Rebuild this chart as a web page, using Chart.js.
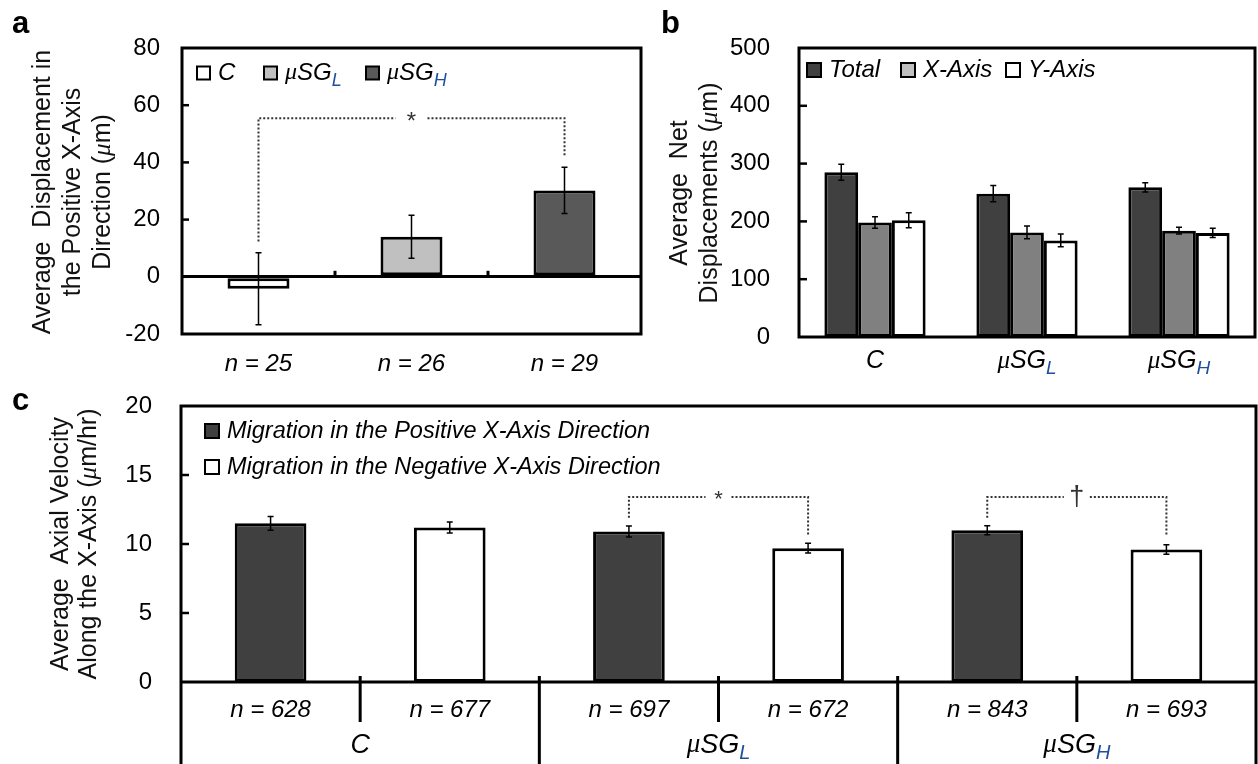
<!DOCTYPE html>
<html>
<head>
<meta charset="utf-8">
<script src="https://cdn.jsdelivr.net/npm/chart.js@4.4.1/dist/chart.umd.min.js"></script>
<style>
  html, body { margin: 0; padding: 0; background: #fff; }
  #wrap { position: relative; width: 1258px; height: 764px; overflow: hidden; }
  canvas { position: absolute; }
</style>
</head>
<body>
<div id="wrap">
  <canvas id="chartA" width="650" height="385" style="left:0;top:0"></canvas>
  <canvas id="chartB" width="608" height="385" style="left:650px;top:0"></canvas>
  <canvas id="chartC" width="1258" height="394" style="left:0;top:370px"></canvas>
</div>
<script>
// ---- data ----
// panel a
const groupsA = ['C', 'μSG_L', 'μSG_H'];
const nLabelsA = ['n = 25', 'n = 26', 'n = 29'];
const meanA = [-4.2, 14.0, 30.2];
const errA = [12.6, 7.5, 8.1];
const colorsA = ['#ffffff', '#c0c0c0', '#595959'];
const bracketsA = [{ from: 0, to: 2, left: 12.3, right: 41.8, top: 55.4, mark: '*' }];

// panel b
const groupsB = ['C', 'μSG_L', 'μSG_H'];
const seriesB = ['Total', 'X-Axis', 'Y-Axis'];
const totalB = [285, 248, 259];
const totalErrB = [14, 14, 8];
const xAxisB = [198, 181, 184];
const xAxisErrB = [10, 11, 6];
const yAxisB = [202, 167, 180];
const yAxisErrB = [13, 11, 8];

// panel c
const groupsC = ['C', 'μSG_L', 'μSG_H'];
const nLabelsC = ['n = 628', 'n = 677', 'n = 697', 'n = 672', 'n = 843', 'n = 693'];
const seriesC = ['Migration in the Positive X-Axis Direction', 'Migration in the Negative X-Axis Direction'];
const positiveC = [11.5, 10.9, 11.0];
const positiveErrC = [0.5, 0.4, 0.33];
const negativeC = [11.2, 9.7, 9.6];
const negativeErrC = [0.4, 0.35, 0.34];
const bracketsC = [
  { from: 2, to: 3, left: 11.9, right: 10.6, top: 13.4, mark: '*' },
  { from: 4, to: 5, left: 11.9, right: 10.6, top: 13.4, mark: '†' }
];

// ---- helpers ----
const FAMILY = '"Liberation Sans", Arial, Helvetica, sans-serif';
const SUB_BLUE = '#1f4e9c';

// split a label into runs: μ in a serif face, "_X" as subscript
function parseRuns(text) {
  const out = [];
  let buf = '';
  for (let i = 0; i < text.length; i++) {
    const ch = text[i];
    if (ch === 'μ') {
      if (buf) out.push({ t: buf });
      buf = '';
      out.push({ t: 'μ', mu: true });
    } else if (ch === '_') {
      if (buf) out.push({ t: buf });
      buf = '';
      out.push({ t: text[i + 1], sub: true });
      i++;
    } else {
      buf += ch;
    }
  }
  if (buf) out.push({ t: buf });
  return out;
}

function drawRich(ctx, text, x, y, size, italic, align, color) {
  const runs = parseRuns(text);
  const fontFor = r => r.mu
    ? `italic ${size}px "Liberation Serif", "DejaVu Serif", serif`
    : `${italic ? 'italic ' : ''}${r.sub ? Math.round(size * 0.75) : size}px ${FAMILY}`;
  let w = 0;
  runs.forEach(r => { ctx.font = fontFor(r); r.w = ctx.measureText(r.t).width; w += r.w; });
  let cx = align === 'center' ? x - w / 2 : align === 'right' ? x - w : x;
  ctx.textAlign = 'left';
  ctx.textBaseline = 'middle';
  runs.forEach(r => {
    ctx.font = fontFor(r);
    ctx.fillStyle = r.sub ? SUB_BLUE : (color || '#000');
    ctx.fillText(r.t, cx, y + (r.sub ? size * 0.32 : 0));
    cx += r.w;
  });
}

function drawErrors(chart, cap) {
  const ctx = chart.ctx, ys = chart.scales.y;
  ctx.save();
  ctx.strokeStyle = '#000';
  ctx.lineWidth = 1.5;
  chart.data.datasets.forEach((ds, di) => {
    if (!ds.errors) return;
    chart.getDatasetMeta(di).data.forEach((bar, i) => {
      const v = ds.data[i], e = ds.errors[i];
      if (v == null || e == null) return;
      const x = bar.x;
      const y1 = ys.getPixelForValue(v + e), y2 = ys.getPixelForValue(v - e);
      ctx.beginPath();
      ctx.moveTo(x, y1); ctx.lineTo(x, y2);
      ctx.moveTo(x - cap, y1); ctx.lineTo(x + cap, y1);
      ctx.moveTo(x - cap, y2); ctx.lineTo(x + cap, y2);
      ctx.stroke();
    });
  });
  ctx.restore();
}

function drawInsideTicks(chart, len) {
  const ys = chart.scales.y, a = chart.chartArea, ctx = chart.ctx;
  ctx.save();
  ctx.strokeStyle = '#000';
  ctx.lineWidth = 2.5;
  ys.ticks.forEach(t => {
    const y = ys.getPixelForValue(t.value);
    if (Math.abs(y - a.top) < 2 || Math.abs(y - a.bottom) < 2) return;
    ctx.beginPath();
    ctx.moveTo(a.left, y);
    ctx.lineTo(a.left + len, y);
    ctx.stroke();
  });
  ctx.restore();
}

function drawBracket(chart, b, gap, markSize, markDy) {
  const ctx = chart.ctx, xs = chart.scales.x, ys = chart.scales.y;
  const x1 = xs.getPixelForValue(b.from), x2 = xs.getPixelForValue(b.to);
  const yl = ys.getPixelForValue(b.left), yr = ys.getPixelForValue(b.right), yt = ys.getPixelForValue(b.top);
  const mid = (x1 + x2) / 2;
  ctx.save();
  ctx.strokeStyle = '#333';
  ctx.lineWidth = 2;
  ctx.setLineDash([2, 2]);
  ctx.beginPath();
  ctx.moveTo(x1, yl); ctx.lineTo(x1, yt); ctx.lineTo(mid - gap, yt);
  ctx.moveTo(mid + gap, yt); ctx.lineTo(x2, yt); ctx.lineTo(x2, yr);
  ctx.stroke();
  ctx.setLineDash([]);
  ctx.fillStyle = '#333';
  ctx.font = `${markSize}px ${FAMILY}`;
  ctx.textAlign = 'center';
  ctx.textBaseline = 'middle';
  ctx.fillText(b.mark, mid, yt + markDy);
  ctx.restore();
}

function drawYTitle(ctx, lines, x0, yc, spacing, size) {
  lines.forEach((ln, i) => {
    ctx.save();
    ctx.translate(x0 + i * spacing, yc);
    ctx.rotate(-Math.PI / 2);
    drawRich(ctx, ln, 0, 0, size, false, 'center', '#111');
    ctx.restore();
  });
}

function drawLegendItem(ctx, x, yc, box, fill, label, size) {
  ctx.save();
  ctx.fillStyle = fill;
  ctx.strokeStyle = '#000';
  ctx.lineWidth = 2;
  ctx.fillRect(x, yc - box / 2, box, box);
  ctx.strokeRect(x, yc - box / 2, box, box);
  ctx.restore();
  drawRich(ctx, label, x + box + 8, yc, size, true, 'left', '#000');
}

function drawPanelLetter(ctx, letter, x, y) {
  ctx.save();
  ctx.font = `bold 31px ${FAMILY}`;
  ctx.fillStyle = '#000';
  ctx.textAlign = 'left';
  ctx.textBaseline = 'alphabetic';
  ctx.fillText(letter, x, y);
  ctx.restore();
}

const tickFont = { family: FAMILY, size: 24 };
const labelFont = { family: FAMILY, size: 24, style: 'italic' };

// ---- panel a ----
new Chart(document.getElementById('chartA'), {
  type: 'bar',
  data: {
    labels: nLabelsA,
    datasets: [{
      data: meanA,
      errors: errA,
      backgroundColor: colorsA,
      borderColor: '#000',
      borderWidth: 3,
      borderSkipped: false,
      barPercentage: 0.405,
      categoryPercentage: 1
    }]
  },
  options: {
    responsive: false,
    animation: false,
    layout: { padding: { top: 48, right: 9, left: 0, bottom: 0 } },
    plugins: { legend: { display: false }, tooltip: { enabled: false } },
    scales: {
      x: {
        grid: { display: false },
        border: { display: false },
        ticks: { color: '#000', font: labelFont, padding: 8 },
        afterFit: s => { s.height = 51; }
      },
      y: {
        min: -20, max: 80,
        ticks: { stepSize: 20, color: '#000', font: tickFont, padding: 22 },
        grid: { color: c => (c.tick && c.tick.value === 0) ? '#000' : 'rgba(0,0,0,0)', lineWidth: 3, drawTicks: false },
        border: { display: false },
        afterFit: s => { s.width = 182; }
      }
    }
  },
  plugins: [{
    id: 'panelA',
    afterDatasetsDraw(chart) { drawErrors(chart, 3); },
    afterDraw(chart) {
      const ctx = chart.ctx, a = chart.chartArea, xs = chart.scales.x, ys = chart.scales.y;
      ctx.save();
      ctx.strokeStyle = '#000';
      ctx.lineWidth = 3;
      ctx.strokeRect(a.left, a.top, a.right - a.left, a.bottom - a.top);
      // category boundary ticks on the zero line
      const y0 = ys.getPixelForValue(0);
      for (let i = 0; i < nLabelsA.length - 1; i++) {
        const xb = (xs.getPixelForTick(i) + xs.getPixelForTick(i + 1)) / 2;
        ctx.beginPath(); ctx.moveTo(xb, y0 - 6); ctx.lineTo(xb, y0); ctx.stroke();
      }
      ctx.restore();
      drawInsideTicks(chart, 7);
      bracketsA.forEach(b => drawBracket(chart, b, 16, 24, 4));
      const offs = [15, 82, 184];
      groupsA.forEach((g, i) => drawLegendItem(ctx, a.left + offs[i], a.top + 25, 13, colorsA[i], g, 24));
      drawYTitle(ctx, ['Average  Displacement in', 'the Positive X-Axis', 'Direction (μm)'], 43, 192, 30, 25);
      drawPanelLetter(ctx, 'a', 12, 33);
    }
  }]
});

// ---- panel b ----
const colorsB = ['#404040', '#808080', '#ffffff'];
const legendColorsB = ['#404040', '#c0c0c0', '#ffffff'];
new Chart(document.getElementById('chartB'), {
  type: 'bar',
  data: {
    labels: groupsB,
    datasets: [
      { label: seriesB[0], data: totalB, errors: totalErrB, backgroundColor: colorsB[0] },
      { label: seriesB[1], data: xAxisB, errors: xAxisErrB, backgroundColor: colorsB[1] },
      { label: seriesB[2], data: yAxisB, errors: yAxisErrB, backgroundColor: colorsB[2] }
    ].map(d => Object.assign(d, { borderColor: '#000', borderWidth: 3, borderSkipped: false, barPercentage: 1, categoryPercentage: 0.666 }))
  },
  options: {
    responsive: false,
    animation: false,
    layout: { padding: { top: 48, right: 3, left: 0, bottom: 0 } },
    plugins: { legend: { display: false }, tooltip: { enabled: false } },
    scales: {
      x: {
        grid: { display: false },
        border: { display: false },
        ticks: { display: false },
        afterFit: s => { s.height = 48; }
      },
      y: {
        min: 0, max: 500,
        ticks: { stepSize: 100, color: '#000', font: tickFont, padding: 21 },
        grid: { display: false },
        border: { display: false },
        afterFit: s => { s.width = 149; }
      }
    }
  },
  plugins: [{
    id: 'panelB',
    afterDatasetsDraw(chart) { drawErrors(chart, 3); },
    afterDraw(chart) {
      const ctx = chart.ctx, a = chart.chartArea, xs = chart.scales.x;
      ctx.save();
      ctx.strokeStyle = '#000';
      ctx.lineWidth = 3;
      ctx.strokeRect(a.left, a.top, a.right - a.left, a.bottom - a.top);
      ctx.restore();
      drawInsideTicks(chart, 8);
      groupsB.forEach((g, i) => drawRich(ctx, g, xs.getPixelForTick(i), 361, 25, true, 'center', '#000'));
      const offs = [8, 102, 207];
      seriesB.forEach((s, i) => drawLegendItem(ctx, a.left + offs[i], a.top + 22, 14, legendColorsB[i], s, 24));
      drawYTitle(ctx, ['Average  Net', 'Displacements (μm)'], 30, 193, 30, 25);
      drawPanelLetter(ctx, 'b', 11, 33);
    }
  }]
});

// ---- panel c ----
// spread three group values over the six sub-columns (positive on even, negative on odd)
function spread(vals, odd) {
  const out = [];
  vals.forEach(v => { if (odd) { out.push(null, v); } else { out.push(v, null); } });
  return out;
}
const colorsC = ['#404040', '#ffffff'];
new Chart(document.getElementById('chartC'), {
  type: 'bar',
  data: {
    labels: nLabelsC,
    datasets: [
      { label: seriesC[0], data: spread(positiveC, false), errors: spread(positiveErrC, false), backgroundColor: colorsC[0] },
      { label: seriesC[1], data: spread(negativeC, true), errors: spread(negativeErrC, true), backgroundColor: colorsC[1] }
    ].map(d => Object.assign(d, { borderColor: '#000', borderWidth: 3, borderSkipped: false, barPercentage: 0.40, categoryPercentage: 1, grouped: false }))
  },
  options: {
    responsive: false,
    animation: false,
    layout: { padding: { top: 36, right: 2, left: 0, bottom: 0 } },
    plugins: { legend: { display: false }, tooltip: { enabled: false } },
    scales: {
      x: {
        grid: { display: false },
        border: { display: false },
        ticks: { color: '#000', font: labelFont, padding: 6 },
        afterFit: s => { s.height = 82; }
      },
      y: {
        min: 0, max: 20,
        ticks: { stepSize: 5, color: '#000', font: tickFont, padding: 21 },
        grid: { display: false },
        border: { display: false },
        afterFit: s => { s.width = 181; }
      }
    }
  },
  plugins: [{
    id: 'panelC',
    afterDatasetsDraw(chart) { drawErrors(chart, 3); },
    afterDraw(chart) {
      const ctx = chart.ctx, a = chart.chartArea, xs = chart.scales.x;
      const H = chart.height;
      ctx.save();
      ctx.strokeStyle = '#000';
      ctx.lineWidth = 3;
      ctx.beginPath();
      ctx.moveTo(a.left, H); ctx.lineTo(a.left, a.top); ctx.lineTo(a.right, a.top); ctx.lineTo(a.right, H);
      ctx.moveTo(a.left, a.bottom); ctx.lineTo(a.right, a.bottom);
      ctx.stroke();
      for (let i = 0; i < nLabelsC.length - 1; i++) {
        const xb = (xs.getPixelForTick(i) + xs.getPixelForTick(i + 1)) / 2;
        ctx.beginPath();
        ctx.moveTo(xb, a.bottom - 6);
        ctx.lineTo(xb, i % 2 === 0 ? a.bottom + 40 : H);
        ctx.stroke();
      }
      ctx.restore();
      drawInsideTicks(chart, 8);
      groupsC.forEach((g, i) => {
        const xc = (xs.getPixelForTick(2 * i) + xs.getPixelForTick(2 * i + 1)) / 2;
        drawRich(ctx, g, xc, a.bottom + 63, 27, true, 'center', '#000');
      });
      bracketsC.forEach(b => drawBracket(chart, b, 13, b.mark === '*' ? 22 : 27, b.mark === '*' ? 3 : 0));
      seriesC.forEach((s, i) => drawLegendItem(ctx, a.left + 24, a.top + 25 + i * 36, 14, colorsC[i], s, 23.5));
      drawYTitle(ctx, ['Average  Axial Velocity', 'Along the X-Axis (μm/hr)'], 61, (a.top + a.bottom) / 2, 28, 25);
      drawPanelLetter(ctx, 'c', 12, a.top + 4);
    }
  }]
});
</script>
</body>
</html>
